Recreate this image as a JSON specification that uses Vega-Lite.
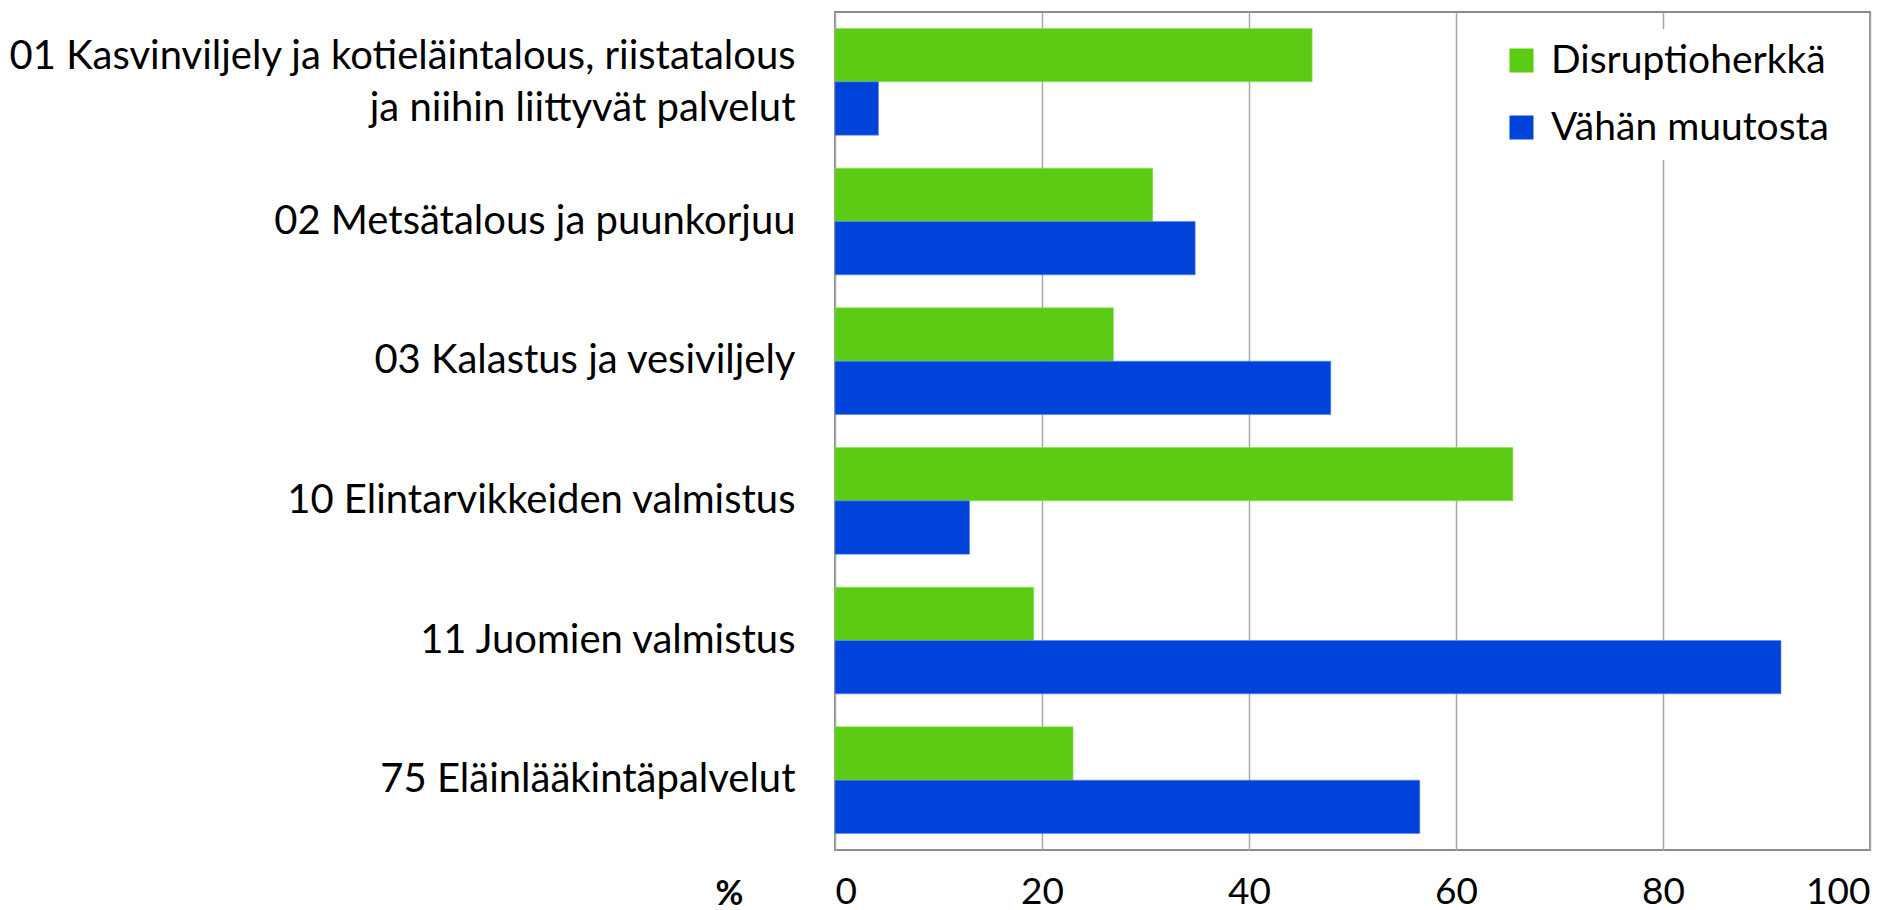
{
  "$schema": "https://vega.github.io/schema/vega-lite/v6.json",
  "width": 1035,
  "height": 838,
  "autosize": {"type": "none"},
  "padding": {"left": 835, "top": 12, "right": 33, "bottom": 60},
  "background": "white",
  "config": {
    "view": {"stroke": "#8c8c8c", "strokeWidth": 2},
    "font": "Lato"
  },
  "data": {
    "values": [
      {"ala": "01 Kasvinviljely ja kotieläintalous, riistatalous |ja niihin liittyvät palvelut", "sarja": "Disruptioherkkä", "arvo": 46.1},
      {"ala": "01 Kasvinviljely ja kotieläintalous, riistatalous |ja niihin liittyvät palvelut", "sarja": "Vähän muutosta", "arvo": 4.2},
      {"ala": "02 Metsätalous ja puunkorjuu", "sarja": "Disruptioherkkä", "arvo": 30.7},
      {"ala": "02 Metsätalous ja puunkorjuu", "sarja": "Vähän muutosta", "arvo": 34.8},
      {"ala": "03 Kalastus ja vesiviljely", "sarja": "Disruptioherkkä", "arvo": 26.9},
      {"ala": "03 Kalastus ja vesiviljely", "sarja": "Vähän muutosta", "arvo": 47.9},
      {"ala": "10 Elintarvikkeiden valmistus", "sarja": "Disruptioherkkä", "arvo": 65.5},
      {"ala": "10 Elintarvikkeiden valmistus", "sarja": "Vähän muutosta", "arvo": 13.0},
      {"ala": "11 Juomien valmistus", "sarja": "Disruptioherkkä", "arvo": 19.2},
      {"ala": "11 Juomien valmistus", "sarja": "Vähän muutosta", "arvo": 91.4},
      {"ala": "75 Eläinlääkintäpalvelut", "sarja": "Disruptioherkkä", "arvo": 23.0},
      {"ala": "75 Eläinlääkintäpalvelut", "sarja": "Vähän muutosta", "arvo": 56.5}
    ]
  },
  "mark": {"type": "bar", "strokeWidth": 1, "strokeOpacity": 0.6},
  "encoding": {
    "y": {
      "field": "ala",
      "type": "nominal",
      "sort": null,
      "scale": {"paddingInner": 0.236, "paddingOuter": 0.118},
      "axis": {
        "title": null,
        "ticks": false,
        "domain": false,
        "labelPadding": 40,
        "labelFontSize": 40,
        "labelColor": "black",
        "labelFont": "Lato",
        "labelLimit": 1000,
        "labelLineHeight": 52,
        "labelOffset": {"condition": {"test": "indexof(datum.label, '|') >= 0", "value": -25}, "value": 0},
        "labelExpr": "split(datum.label, '|')"
      }
    },
    "yOffset": {
      "field": "sarja",
      "type": "nominal",
      "sort": ["Disruptioherkkä", "Vähän muutosta"],
      "scale": {"paddingInner": 0, "paddingOuter": 0}
    },
    "x": {
      "field": "arvo",
      "type": "quantitative",
      "scale": {"domain": [0, 100], "nice": false},
      "axis": {
        "values": [0, 20, 40, 60, 80, 100],
        "title": "%",
        "titleFontSize": 34,
        "titleFontWeight": "bold",
        "titleColor": "black",
        "titleFont": "Lato",
        "titleX": -106,
        "titleY": 44,
        "titleBaseline": "middle",
        "titleAnchor": "start",
        "titleAlign": "center",
        "ticks": false,
        "domain": false,
        "labelPadding": 24,
        "labelFontSize": 37,
        "labelColor": "black",
        "labelFont": "Lato",
        "grid": true,
        "gridColor": "#a6a6a6",
        "gridWidth": 1.5
      }
    },
    "color": {
      "field": "sarja",
      "type": "nominal",
      "scale": {"domain": ["Disruptioherkkä", "Vähän muutosta"], "range": ["#5bcb14", "#0043da"]},
      "legend": {
        "title": null,
        "orient": "none",
        "legendX": 655,
        "legendY": 17,
        "symbolType": "square",
        "symbolSize": 576,
        "symbolStrokeWidth": 0,
        "labelFontSize": 39,
        "labelFont": "Lato",
        "labelColor": "black",
        "labelOffset": 10,
        "rowPadding": 27,
        "fillColor": "white",
        "padding": 12,
        "labelLimit": 450
      }
    },
    "stroke": {
      "field": "sarja",
      "type": "nominal",
      "scale": {"domain": ["Disruptioherkkä", "Vähän muutosta"], "range": ["#8fe060", "#5a85f0"]},
      "legend": null
    }
  }
}
